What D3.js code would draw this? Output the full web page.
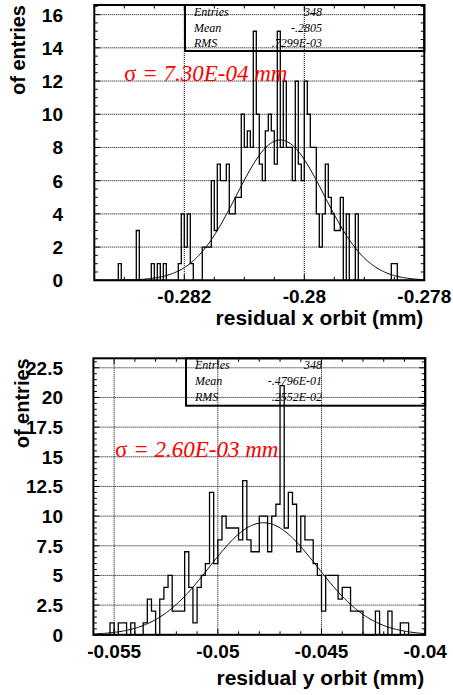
<!DOCTYPE html>
<html lang="en">
<head>
<meta charset="UTF-8">
<title>residual orbit</title>
<script src="https://d3js.org/d3.v7.min.js"></script>
<style>
  body { margin: 0; background: #fff; }
</style>
</head>
<body>
<div id="chart"></div>
<script>
// ---- residual x orbit: 110 bins, -0.2835 .. -0.278
var xRange = [-0.2835, -0.278];
var xCounts = [
  0,0,0,0,0,0,0,0,1,0, 0,0,0,0,3,0,0,0,0,1,
  0,1,0,1,0,0,0,0,1,4, 2,4,1,0,0,0,2,2,2,6,
  3,7,6,6,7,4,4,5,5,10, 8,9,8,15,10,7,6,9,10,9,
  7,15,8,12,8,8,6,12,7,6, 12,10,8,8,4,2,4,7,5,4,
  3,3,5,0,4,0,0,4,0,0, 0,0,0,0,0,0,0,0,0,1,
  1,0,0,0,0,0,0,0,0,0
];
var xFit = [8.45, -0.2804, 0.00073];   // constant, mean, sigma
var xStats = ["348", "-.2805", ".7299E-03"];
var xTicks = [-0.282, -0.28, -0.278];
var xYTicks = [0, 2, 4, 6, 8, 10, 12, 14, 16];

// ---- residual y orbit: 80 bins, -0.056 .. -0.04
var yRange = [-0.056, -0.04];
var yCounts = [
  0,0,0,0,1,0,1,1,0,1, 0,0,1,3,2,0,3,4,5,2,
  2,2,7,4,1,4,5,6,12,6, 8,10,9,9,9,8,13,8,7,7,
  10,10,7,10,11,21,9,12,11,7, 10,8,8,6,5,2,5,5,5,3,
  4,4,2,2,2,0,0,0,2,0, 0,2,0,0,1,1,0,0,0,0
];
var yFit = [9.44, -0.0478, 0.0026];
var yStats = ["348", "-.4796E-01", ".2552E-02"];
var yTicks = [-0.055, -0.05, -0.045, -0.04];
var yYTicks = [0, 2.5, 5, 7.5, 10, 12.5, 15, 17.5, 20, 22.5];

var statNames = ["Entries", "Mean", "RMS"];

var sans = "'Liberation Sans', Arial, Helvetica, sans-serif";
var serif = "'Liberation Serif', 'Times New Roman', Times, serif";

var svg = d3.select("#chart").append("svg")
    .attr("width", 453)
    .attr("height", 695);

function drawPanel(p) {
    var x = d3.scaleLinear().domain(p.range).range([p.left, p.right]);
    var y = d3.scaleLinear().domain([0, p.ymax]).range([p.bottom, p.top]);
    var g = svg.append("g");
    var bw = (p.range[1] - p.range[0]) / p.counts.length;

    // grid
    p.xTicks.forEach(function(v) {
        g.append("line").attr("x1", x(v)).attr("x2", x(v))
            .attr("y1", p.top).attr("y2", p.bottom)
            .attr("stroke", "#000").attr("stroke-width", 1)
            .attr("stroke-dasharray", "1,1");
    });
    p.yTicks.forEach(function(v) {
        g.append("line").attr("x1", p.left).attr("x2", p.right)
            .attr("y1", y(v)).attr("y2", y(v))
            .attr("stroke", "#000").attr("stroke-width", 1)
            .attr("stroke-dasharray", "1,1");
    });

    // histogram outline
    var pts = [[x(p.range[0]), y(0)]];
    p.counts.forEach(function(c, i) {
        var x0 = x(p.range[0] + i * bw), x1 = x(p.range[0] + (i + 1) * bw);
        pts.push([x0, y(c)]);
        pts.push([x1, y(c)]);
    });
    pts.push([x(p.range[1]), y(0)]);
    g.append("path")
        .attr("d", d3.line()(pts))
        .attr("fill", "none")
        .attr("stroke", "#000")
        .attr("stroke-width", 1.3);

    // gaussian fit
    var fx = d3.range(0, 301).map(function(i) {
        return p.range[0] + (p.range[1] - p.range[0]) * i / 300;
    });
    var gauss = d3.line()
        .x(function(v) { return x(v); })
        .y(function(v) {
            var z = (v - p.fit[1]) / p.fit[2];
            return y(p.fit[0] * Math.exp(-0.5 * z * z));
        });
    g.append("path").attr("d", gauss(fx))
        .attr("fill", "none").attr("stroke", "#000").attr("stroke-width", 1);

    // ticks (inside the frame, both sides)
    var xMinor = d3.range(Math.ceil(p.range[0] / p.xMinor - 1e-6), Math.floor(p.range[1] / p.xMinor + 1e-6) + 1)
        .map(function(i) { return i * p.xMinor; });
    xMinor.forEach(function(v) {
        var major = p.xTicks.some(function(t) { return Math.abs(t - v) < 1e-9; });
        var len = major ? 6 : 3.5;
        g.append("line").attr("x1", x(v)).attr("x2", x(v))
            .attr("y1", p.bottom).attr("y2", p.bottom - len).attr("stroke", "#000");
        g.append("line").attr("x1", x(v)).attr("x2", x(v))
            .attr("y1", p.top).attr("y2", p.top + len).attr("stroke", "#000");
    });
    d3.range(0, Math.floor(p.ymax / 0.5) + 1).map(function(i) { return i * 0.5; })
        .forEach(function(v) {
            var major = p.yTicks.indexOf(v) >= 0;
            var len = major ? 6 : 3.5;
            g.append("line").attr("x1", p.left).attr("x2", p.left + len)
                .attr("y1", y(v)).attr("y2", y(v)).attr("stroke", "#000");
            g.append("line").attr("x1", p.right).attr("x2", p.right - len)
                .attr("y1", y(v)).attr("y2", y(v)).attr("stroke", "#000");
        });

    // frame
    g.append("rect").attr("x", p.left).attr("y", p.top)
        .attr("width", p.right - p.left).attr("height", p.bottom - p.top)
        .attr("fill", "none").attr("stroke", "#000").attr("stroke-width", 2);

    // tick labels
    p.xTicks.forEach(function(v) {
        g.append("text").attr("x", x(v)).attr("y", p.bottom + 23)
            .attr("text-anchor", "middle")
            .style("font-family", sans).style("font-weight", "bold")
            .style("font-size", "19px").text(String(v));
    });
    p.yTicks.forEach(function(v) {
        g.append("text").attr("x", 63).attr("y", y(v) + 7)
            .attr("text-anchor", "end")
            .style("font-family", sans).style("font-weight", "bold")
            .style("font-size", "19px").text(String(v));
    });

    // axis titles
    g.append("text").attr("x", p.right - 1).attr("y", p.bottom + p.titleDy)
        .attr("text-anchor", "end")
        .style("font-family", sans).style("font-weight", "bold")
        .style("font-size", "21px").text(p.xTitle);
    g.append("text")
        .attr("transform", "translate(" + p.yTitleX + "," + p.top + ") rotate(-90)")
        .attr("text-anchor", "end")
        .style("font-family", sans).style("font-weight", "bold")
        .style("font-size", "20px").text("of entries");

    // stats box
    g.append("rect").attr("x", p.statLeft).attr("y", p.top)
        .attr("width", p.right - p.statLeft).attr("height", p.statBottom - p.top)
        .attr("fill", "none").attr("stroke", "#000").attr("stroke-width", 2);
    statNames.forEach(function(n, i) {
        var by = p.top + 11 + i * 15.7;
        g.append("text").attr("x", p.statLeft + 9).attr("y", by)
            .style("font-family", serif).style("font-style", "italic")
            .style("font-size", "12px").text(n);
        g.append("text").attr("x", 322).attr("y", by)
            .attr("text-anchor", "end")
            .style("font-family", serif).style("font-style", "italic")
            .style("font-size", "12px").text(p.stats[i]);
    });

    // sigma label
    var st = g.append("text").attr("x", p.sigX).attr("y", p.sigY)
        .style("font-family", serif).style("font-size", "23px")
        .attr("fill", "#ff0000");
    st.append("tspan").style("font-style", "normal").text("\u03c3");
    st.append("tspan").style("font-style", "italic").text(" = " + p.sigText + " mm");
}

drawPanel({
    range: xRange, counts: xCounts, fit: xFit, stats: xStats,
    xTicks: xTicks, yTicks: xYTicks, xMinor: 0.0005,
    left: 94.3, right: 424.3, top: 5, bottom: 280.3, ymax: 16.58,
    xTitle: "residual x orbit (mm)", titleDy: 45, yTitleX: 25,
    statLeft: 185, statBottom: 51,
    sigX: 124, sigY: 81, sigText: "7.30E-04"
});

drawPanel({
    range: yRange, counts: yCounts, fit: yFit, stats: yStats,
    xTicks: yTicks, yTicks: yYTicks, xMinor: 0.001,
    left: 93.4, right: 425.2, top: 358.3, bottom: 634.8, ymax: 23.3,
    xTitle: "residual y orbit (mm)", titleDy: 50, yTitleX: 29,
    statLeft: 186, statBottom: 405.7,
    sigX: 115, sigY: 457, sigText: "2.60E-03"
});
</script>
</body>
</html>
